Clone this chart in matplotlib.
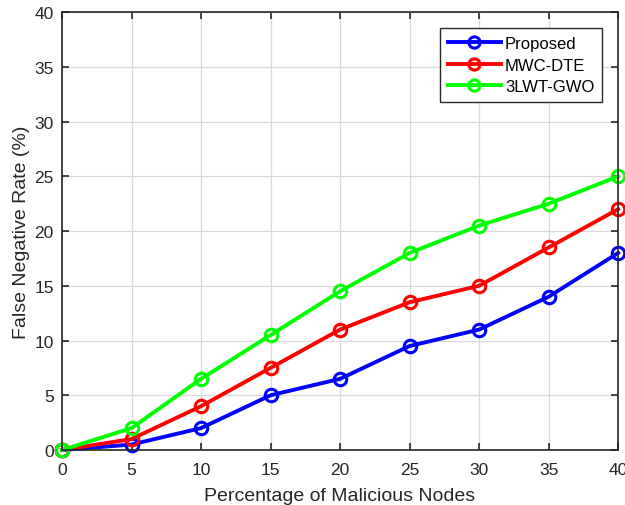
import matplotlib
matplotlib.use("Agg")
import matplotlib.pyplot as plt

x = [0, 5, 10, 15, 20, 25, 30, 35, 40]
proposed = [0, 0.5, 2, 5, 6.5, 9.5, 11, 14, 18]
mwc_dte = [0, 1, 4, 7.5, 11, 13.5, 15, 18.5, 22]
lwt_gwo = [0, 2, 6.5, 10.5, 14.5, 18, 20.5, 22.5, 25]
labels = ["Proposed", "MWC-DTE", "3LWT-GWO"]
colors = ["#0000ff", "#ff0000", "#00ff00"]

plt.rcParams['font.family'] = ['Liberation Sans', 'DejaVu Sans']

fig = plt.figure(figsize=(6.25, 5.06), dpi=100)
ax = fig.add_axes([0.0992, 0.1087, 0.8898, 0.8653])

for series, lab, c in zip([proposed, mwc_dte, lwt_gwo], labels, colors):
    ax.plot(x, series, color=c, lw=2.8, marker='o', markersize=9,
            markerfacecolor='none', markeredgewidth=2.2, label=lab, clip_on=False)

ax.set_xlim(0, 40)
ax.set_ylim(0, 40)
ax.set_xticks(range(0, 41, 5))
ax.set_yticks(range(0, 41, 5))
ax.grid(True, color='#d9d9d9', lw=0.9)
ax.set_axisbelow(True)
ax.tick_params(direction='in', top=True, right=True, labelsize=12.5, length=5,
               width=1.2, colors='#262626')
ax.tick_params(axis='x', pad=9)
ax.tick_params(axis='y', pad=6)
for s in ax.spines.values():
    s.set_color('#262626')
    s.set_linewidth(1.2)

ax.set_xlabel("Percentage of Malicious Nodes", fontsize=14, color='#262626', labelpad=7)
ax.set_ylabel("False Negative Rate (%)", fontsize=14, color='#262626', labelpad=3)

leg = ax.legend(loc='upper right', bbox_to_anchor=(0.971, 0.963), borderaxespad=0,
                fontsize=12, handlelength=3.2, handletextpad=0.25, borderpad=0.45,
                labelspacing=0.4, fancybox=False, edgecolor='#262626', framealpha=1,
                markerscale=0.9)
leg.get_frame().set_linewidth(1.0)

fig.savefig("out.png", dpi=100)
